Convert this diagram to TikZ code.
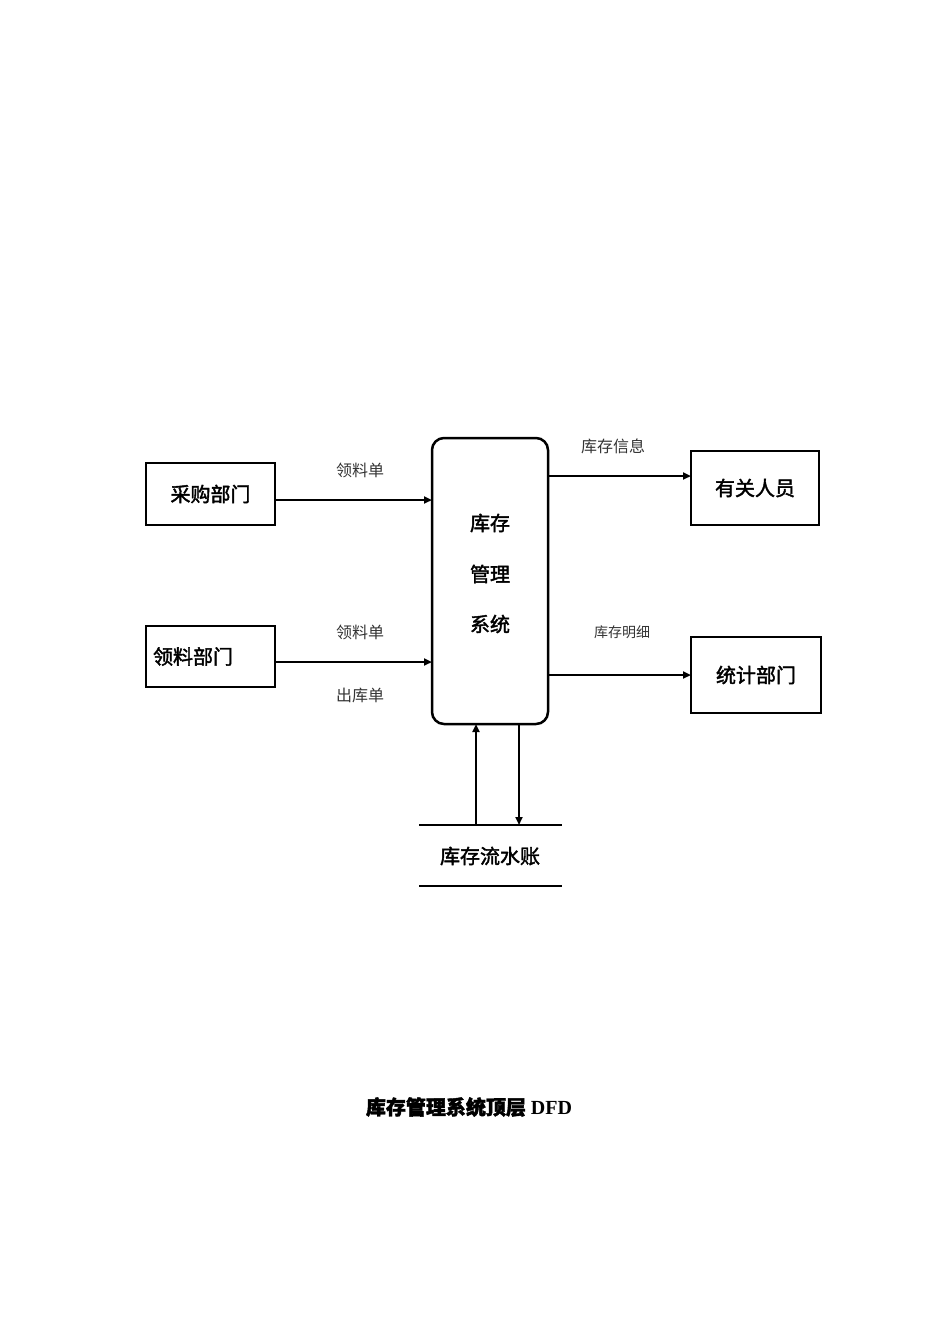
\documentclass[tikz,border=0pt]{standalone}
\usepackage{fontspec}
\setmainfont{Liberation Serif}
\newfontfamily\cjk{Noto Sans CJK SC}
\newfontfamily\cjkb{Noto Sans CJK SC}[FakeBold=2]
\usetikzlibrary{arrows.meta}
\begin{document}
\begin{tikzpicture}[x=1pt,y=-1pt,
  ent/.style={draw,line width=2.5pt,inner sep=0,font=\fontsize{20}{22}\selectfont\cjkb},
  lbl/.style={font=\fontsize{16}{18}\selectfont\cjk,text=black!80},
  flow/.style={line width=2pt,-{Triangle[length=8pt,width=7pt]}}]
\useasboundingbox (0,0) rectangle (950,1344);
\node[ent,minimum width=129pt,minimum height=62pt] (cg) at (210.5,494) {采购部门};
\node[ent,minimum width=129pt,minimum height=61pt,text width=115pt,align=left] (ll) at (210.5,656.5) {领料部门};
\node[draw,line width=2.5pt,rounded corners=12pt,minimum width=116pt,minimum height=286pt] (sys) at (490,581) {};
\node[font=\fontsize{20}{22}\selectfont\cjkb] (t1) at (490,523) {库存};
\node[font=\fontsize{20}{22}\selectfont\cjkb] (t2) at (490,574) {管理};
\node[font=\fontsize{20}{22}\selectfont\cjkb] (t3) at (490,624) {系统};
\node[ent,minimum width=128pt,minimum height=74pt] (yg) at (755,488) {有关人员};
\node[ent,minimum width=130pt,minimum height=76pt] (tj) at (756,675) {统计部门};
\coordinate (a1) at (275,500); \coordinate (a2) at (432,500);
\draw[flow] (a1) -- (a2);
\node[lbl] (l1) at (360,470) {领料单};
\coordinate (b1) at (275,662); \coordinate (b2) at (432,662);
\draw[flow] (b1) -- (b2);
\node[lbl] (l2) at (360,632) {领料单};
\node[lbl] (l3) at (360,695) {出库单};
\coordinate (c1) at (548,476); \coordinate (c2) at (691,476);
\draw[flow] (c1) -- (c2);
\node[lbl] (l4) at (613,446) {库存信息};
\coordinate (d1) at (548,675); \coordinate (d2) at (691,675);
\draw[flow] (d1) -- (d2);
\node[lbl,font=\fontsize{14}{16}\selectfont\cjk] (l5) at (622,632) {库存明细};
\coordinate (s1) at (419,825); \coordinate (s2) at (562,825);
\coordinate (s3) at (419,886); \coordinate (s4) at (562,886);
\draw[line width=2.5pt] (s1) -- (s2);
\draw[line width=2.5pt] (s3) -- (s4);
\node[font=\fontsize{20}{22}\selectfont\cjkb] (ds) at (490,856) {库存流水账};
\coordinate (u1) at (476,825); \coordinate (u2) at (476,724);
\draw[flow] (u1) -- (u2);
\coordinate (v1) at (519,724); \coordinate (v2) at (519,825);
\draw[flow] (v1) -- (v2);
\node[font=\fontsize{20}{22}\selectfont\bfseries] (title) at (469,1107) {{\cjkb 库存管理系统顶层} DFD};
\end{tikzpicture}
\end{document}
